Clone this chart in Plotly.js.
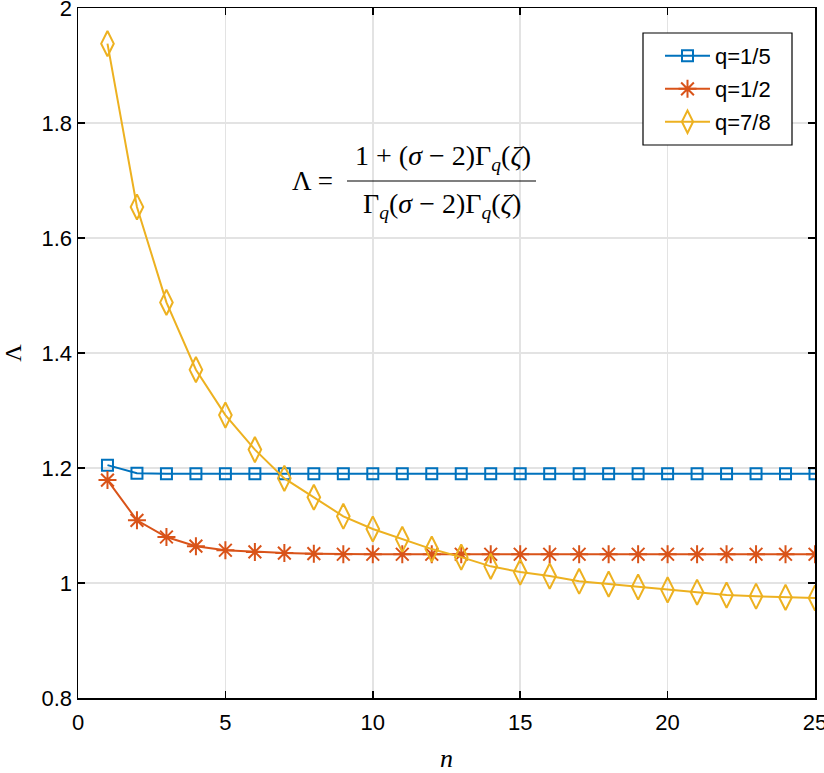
<!DOCTYPE html>
<html><head><meta charset="utf-8">
<script src="https://cdn.plot.ly/plotly-3.0.1.min.js"></script>
<style>body{margin:0;background:#fff}#chart{width:824px;height:773px}</style>
</head><body><div id="chart"></div>
<script>
const n = [1,2,3,4,5,6,7,8,9,10,11,12,13,14,15,16,17,18,19,20,21,22,23,24,25];
const q15 = [1.205,1.191,1.190,1.190,1.190,1.190,1.190,1.190,1.190,1.190,1.190,1.190,1.190,1.190,1.190,1.190,1.190,1.190,1.190,1.190,1.190,1.190,1.190,1.190,1.190];
const q12 = [1.179,1.109,1.080,1.064,1.057,1.054,1.052,1.051,1.050,1.050,1.050,1.050,1.050,1.050,1.050,1.050,1.050,1.050,1.050,1.050,1.050,1.050,1.050,1.050,1.050];
const q78 = [1.938,1.654,1.488,1.371,1.292,1.232,1.182,1.149,1.116,1.094,1.076,1.059,1.045,1.029,1.019,1.012,1.003,0.998,0.993,0.988,0.984,0.979,0.977,0.975,0.974];
const names = ['q=1/5','q=1/2','q=7/8'];
const colors = ['#0072BD','#D95319','#EDB120'];
const xTicks = [0,5,10,15,20,25];
const yTicks = [0.8,1,1.2,1.4,1.6,1.8,2];
const yTickText = ['0.8','1','1.2','1.4','1.6','1.8','2'];

const W = 824, H = 773, L = 78, R = 9, T = 8, B = 75;
const PW = W - L - R, PH = H - T - B;
const px = v => (v - L) / PW;
const py = v => (H - B - v) / PH;

const traces = [
  {x:n, y:q15, name:names[0], legend:'legend', mode:'lines+markers', line:{color:colors[0],width:2},
   marker:{symbol:'square-open', size:11, color:colors[0], line:{width:2,color:colors[0]}}},
  {x:n, y:q12, name:names[1], legend:'legend2', mode:'lines+markers', line:{color:colors[1],width:2},
   marker:{symbol:'asterisk-open', size:15, color:colors[1], line:{width:2,color:colors[1]}}},
  {x:n, y:q78, name:names[2], legend:'legend3', mode:'lines+markers', line:{color:colors[2],width:2},
   marker:{symbol:'diamond-tall-open', size:18, color:colors[2], line:{width:2,color:colors[2]}}}
];

const sans = 'Liberation Sans Narrow, Liberation Sans, Arial, sans-serif';
const serif = 'Liberation Serif, DejaVu Serif, serif';
const legendBase = yc => ({x:px(660), y:py(yc), xanchor:'left', yanchor:'middle', itemwidth:45,
  bgcolor:'rgba(0,0,0,0)', borderwidth:0, font:{family:sans, size:22}});
const layout = {
  width:W, height:H,
  margin:{l:L, r:R, t:T, b:B},
  paper_bgcolor:'#fff', plot_bgcolor:'#fff',
  font:{family:sans, size:22, color:'#000'},
  showlegend:true,
  legend:legendBase(56), legend2:legendBase(89), legend3:legendBase(122),
  xaxis:{range:[0,25], tickvals:xTicks, showgrid:true, gridcolor:'#e3e3e3', gridwidth:1.5,
    zeroline:false, showline:true, linecolor:'#000', linewidth:1.5, mirror:'ticks',
    ticks:'inside', ticklen:7, tickcolor:'#000', tickwidth:1.5, ticklabeloverflow:'allow',
    ticklabelstandoff:4,
    title:{text:'<i>n</i>', font:{family:serif, size:26}, standoff:16}},
  yaxis:{range:[0.8,2], tickvals:yTicks, ticktext:yTickText, showgrid:true, gridcolor:'#e3e3e3', gridwidth:1.5,
    zeroline:false, showline:true, linecolor:'#000', linewidth:1.5, mirror:'ticks',
    ticks:'inside', ticklen:7, tickcolor:'#000', tickwidth:1.5, ticklabeloverflow:'allow',
    title:{text:'Λ', font:{family:serif, size:24}, standoff:14}},
  annotations:[
    {xref:'paper', yref:'paper', x:px(312), y:py(181), text:'Λ =', showarrow:false,
     font:{family:serif, size:27}, xanchor:'center', yanchor:'middle'},
    {xref:'paper', yref:'paper', x:px(443), y:py(158),
     text:'1 + (<i>σ</i> − 2)Γ<sub><i>q</i></sub>(<i>ζ</i>)', showarrow:false,
     font:{family:serif, size:28}, xanchor:'center', yanchor:'middle'},
    {xref:'paper', yref:'paper', x:px(442), y:py(205),
     text:'Γ<sub><i>q</i></sub>(<i>σ</i> − 2)Γ<sub><i>q</i></sub>(<i>ζ</i>)', showarrow:false,
     font:{family:serif, size:28}, xanchor:'center', yanchor:'middle'}
  ],
  shapes:[
    {type:'line', xref:'paper', yref:'paper', x0:px(347), x1:px(536),
     y0:py(181), y1:py(181), line:{color:'#000', width:1.2}},
    {type:'rect', xref:'paper', yref:'paper', layer:'above', x0:px(643), x1:px(792),
     y0:py(33), y1:py(145), fillcolor:'#fff', line:{color:'#000', width:1.2}}
  ]
};
Plotly.newPlot('chart', traces, layout, {displayModeBar:false, staticPlot:true});
</script></body></html>
